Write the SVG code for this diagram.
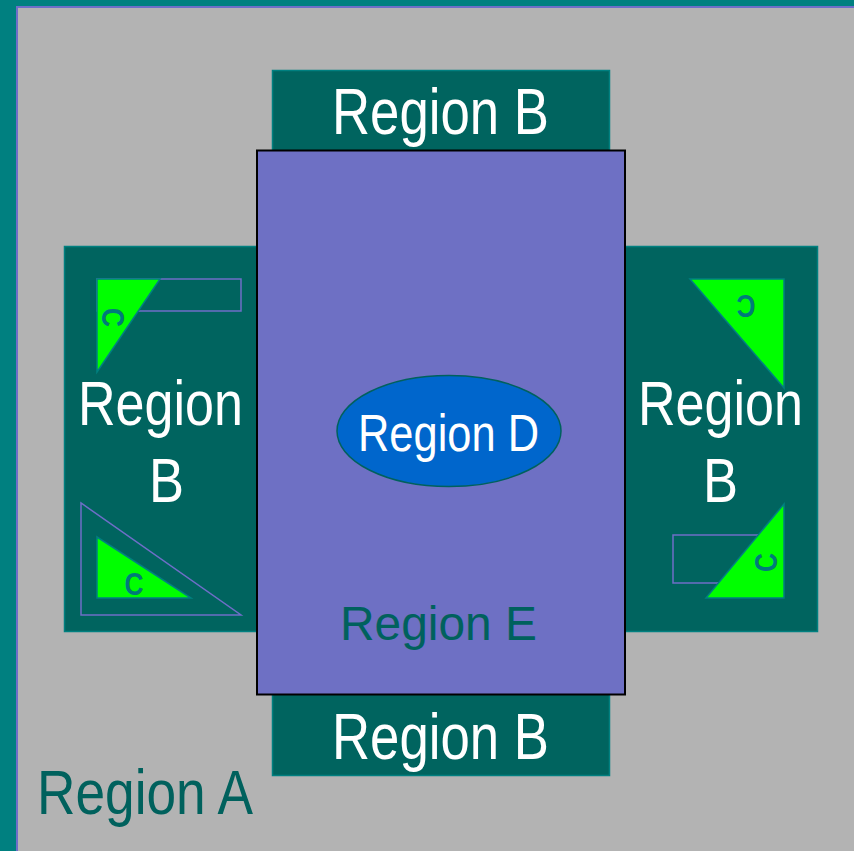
<svg xmlns="http://www.w3.org/2000/svg" width="854" height="851" viewBox="0 0 854 851">
<style>
.t{font-family:"Liberation Sans",Arial,Helvetica,sans-serif;}
.w{fill:#FFFFFF;}
.dk{fill:#00615D;}
.regB{fill:#00645F;stroke:#008080;stroke-width:1.5;}
.tri{fill:#00FF00;stroke:#008080;stroke-width:1.5;stroke-linejoin:miter;}
.pur{fill:none;stroke:#6E6EC8;stroke-width:1.5;}
.c{fill:#007A7A;font-size:32px;font-weight:bold;}
</style>
<rect x="0" y="0" width="854" height="851" fill="#008080"/>
<g id="regionA">
<rect x="17" y="7" width="850" height="860" fill="#B3B3B3" stroke="#6E6EC8" stroke-width="2"/>
<text class="t dk" x="37" y="814" font-size="63" textLength="216" lengthAdjust="spacingAndGlyphs">Region A</text>
</g>
<g id="regionB-top">
<rect class="regB" x="272.5" y="70.5" width="337" height="100"/>
<text class="t w" x="332" y="134" font-size="64" textLength="217" lengthAdjust="spacingAndGlyphs">Region B</text>
</g>
<g id="regionB-bottom">
<rect class="regB" x="272.5" y="680" width="337" height="95.5"/>
<text class="t w" x="332" y="759" font-size="64" textLength="217" lengthAdjust="spacingAndGlyphs">Region B</text>
</g>
<g id="regionB-left">
<rect class="regB" x="64.5" y="246.5" width="200" height="385"/>
<rect class="pur" x="97" y="279" width="144" height="32"/>
<polygon class="tri" points="97,279 160,279 97,372"/>
<text class="t c" transform="translate(102,308) rotate(90)" textLength="19" lengthAdjust="spacingAndGlyphs">C</text>
<polygon class="pur" points="81,503 81,615 241,615"/>
<polygon class="tri" points="97,537 97,598 191,598"/>
<text class="t c" x="124.5" y="595" textLength="19" lengthAdjust="spacingAndGlyphs">C</text>
<text class="t w" x="78" y="425" font-size="63" textLength="165" lengthAdjust="spacingAndGlyphs">Region</text>
<text class="t w" x="149" y="502" font-size="63" textLength="35" lengthAdjust="spacingAndGlyphs">B</text>
</g>
<g id="regionB-right">
<rect class="regB" x="610" y="246.5" width="207.5" height="385"/>
<polygon class="tri" points="690,279 784,279 784,388"/>
<text class="t c" transform="translate(755.5,295) rotate(180)" textLength="19" lengthAdjust="spacingAndGlyphs">C</text>
<rect class="pur" x="673" y="535" width="100" height="48"/>
<polygon class="tri" points="784,504 784,598 706,598"/>
<text class="t c" transform="translate(776.5,572) rotate(-90)" textLength="19" lengthAdjust="spacingAndGlyphs">C</text>
<text class="t w" x="638" y="425" font-size="63" textLength="165" lengthAdjust="spacingAndGlyphs">Region</text>
<text class="t w" x="703" y="502" font-size="63" textLength="35" lengthAdjust="spacingAndGlyphs">B</text>
</g>
<g id="regionE">
<rect x="257" y="150.5" width="368" height="544" fill="#6E70C4" stroke="#000000" stroke-width="2"/>
<text class="t dk" x="340" y="640" font-size="48" textLength="197" lengthAdjust="spacingAndGlyphs">Region E</text>
</g>
<g id="regionD">
<ellipse cx="449" cy="431" rx="112" ry="55.5" fill="#0066CC" stroke="#00615D" stroke-width="1.5"/>
<text class="t w" x="358" y="451" font-size="52" textLength="181" lengthAdjust="spacingAndGlyphs">Region D</text>
</g>
</svg>
